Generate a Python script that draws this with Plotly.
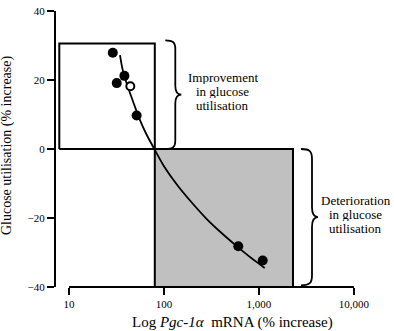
import numpy as np
import plotly.graph_objects as go

# ---------------- data ----------------
pgc_filled = [28.9, 31.8, 38.3, 51.5, 605, 1094]
glucose_filled = [27.9, 19.1, 21.2, 9.7, -28.2, -32.3]
pgc_open = [44.2]
glucose_open = [18.2]
fit_pgc = [34.4, 36.7, 40.8, 46.9, 55.0, 64.7, 79.1, 100, 141, 200, 282, 398, 562, 794, 1148]
fit_glucose = [27.2, 23.0, 18.7, 14.0, 8.8, 4.5, 0.0, -5.0, -10.8, -15.8, -20.3, -24.2, -27.8, -31.2, -34.5]
improve_pgc = [7.9, 80]
improve_glucose = [0, 30.6]
deteriorate_pgc = [80, 2280]
deteriorate_glucose = [-40, 0]
x_tickvals = [10, 100, 1000, 10000]
x_ticktext = ["10", "100", "1,000", "10,000"]
y_tickvals = [-40, -20, 0, 20, 40]
improve_lines = ["Improvement", "in glucose", "utilisation"]
deteriorate_lines = ["Deterioration", "in glucose", "utilisation"]

# ---------------- layout constants ----------------
W, H = 394, 331
ML, MR, MT, MB = 56, 29, 5, 44
PW, PH = W - ML - MR, H - MT - MB
XR = [0.863, 4.116]
YR = [-40, 40]
FONT = "Liberation Serif"


def xpap(v):
    return (np.log10(v) - XR[0]) / (XR[1] - XR[0])


def ypap(v):
    return (v - YR[0]) / (YR[1] - YR[0])


def px(v):
    return ML + xpap(v) * PW


def py(v):
    return MT + (1 - ypap(v)) * PH


def to_paper(x, y):
    return (x - ML) / PW, (MT + PH - y) / PH


def brace_path(x_tip, x_vert, x_point, y_top, y_bot, r):
    ym = (y_top + y_bot) / 2
    segs = [
        ("M", [(x_tip, y_top)]),
        ("C", [(x_tip + (x_vert - x_tip) * 0.8, y_top), (x_vert, y_top + r * 0.25), (x_vert, y_top + r)]),
        ("L", [(x_vert, ym - r)]),
        ("C", [(x_vert, ym - r * 0.35), (x_vert + (x_point - x_vert) * 0.4, ym), (x_point, ym)]),
        ("C", [(x_vert + (x_point - x_vert) * 0.4, ym), (x_vert, ym + r * 0.35), (x_vert, ym + r)]),
        ("L", [(x_vert, y_bot - r)]),
        ("C", [(x_vert, y_bot - r * 0.25), (x_tip + (x_vert - x_tip) * 0.8, y_bot), (x_tip, y_bot)]),
    ]
    out = []
    for cmd, pts in segs:
        coords = []
        for (x, y) in pts:
            a, b = to_paper(x, y)
            coords.append(f"{a:.5f},{b:.5f}")
        out.append(cmd + " " + " ".join(coords))
    return " ".join(out)


def rect_xy(xs, ys):
    return ([xs[0], xs[1], xs[1], xs[0], xs[0]], [ys[0], ys[0], ys[1], ys[1], ys[0]])


fig = go.Figure()

bx, by = rect_xy(deteriorate_pgc, deteriorate_glucose)
fig.add_trace(go.Scatter(x=bx, y=by, mode="lines", fill="toself", fillcolor="#c0c0c0",
                         line=dict(color="black", width=2), hoverinfo="skip", showlegend=False))
bx, by = rect_xy(improve_pgc, improve_glucose)
fig.add_trace(go.Scatter(x=bx, y=by, mode="lines", line=dict(color="black", width=2),
                         hoverinfo="skip", showlegend=False))
fig.add_trace(go.Scatter(x=fit_pgc, y=fit_glucose, mode="lines",
                         line=dict(color="black", width=1.8, shape="spline", smoothing=0.8),
                         showlegend=False))
fig.add_trace(go.Scatter(x=pgc_filled, y=glucose_filled, mode="markers",
                         marker=dict(size=10, color="black"), showlegend=False))
fig.add_trace(go.Scatter(x=pgc_open, y=glucose_open, mode="markers",
                         marker=dict(size=8, color="white", line=dict(color="black", width=2)),
                         showlegend=False))

shapes = []
# x axis line (from 10 to 10,000 only)
shapes.append(dict(type="line", xref="paper", yref="paper", x0=xpap(x_tickvals[0]), x1=xpap(x_tickvals[-1]),
                   y0=0, y1=0, line=dict(color="black", width=2)))
# braces
t1 = px(improve_pgc[1]) + 10.5
shapes.append(dict(type="path", xref="paper", yref="paper",
                   path=brace_path(t1, t1 + 10, t1 + 16, py(31.5), py(0), 9),
                   line=dict(color="black", width=1.8)))
t2 = px(deteriorate_pgc[1]) + 8
shapes.append(dict(type="path", xref="paper", yref="paper",
                   path=brace_path(t2, t2 + 11, t2 + 17, py(0), py(-39.5), 10),
                   line=dict(color="black", width=1.8)))

annotations = []
LS = 14.5
for i, t in enumerate(improve_lines):
    x, y = to_paper(222.5, 73 + i * LS)
    annotations.append(dict(text=t, xref="paper", yref="paper", x=x, y=y, showarrow=False, height=13,
                            xanchor="center", yanchor="middle", font=dict(family=FONT, size=13, color="black")))
for i, t in enumerate(deteriorate_lines):
    x, y = to_paper(355.5, 198.5 + i * LS)
    annotations.append(dict(text=t, xref="paper", yref="paper", x=x, y=y, showarrow=False, height=13,
                            xanchor="center", yanchor="middle", font=dict(family=FONT, size=13, color="black")))
x, y = to_paper(232, 323)
annotations.append(dict(text="Log <i>Pgc-1α</i>  mRNA (% increase)", xref="paper", yref="paper", x=x, y=y,
                        showarrow=False, xanchor="center", yanchor="middle",
                        font=dict(family=FONT, size=15, color="black")))
x, y = to_paper(7, 142)
annotations.append(dict(text="Glucose utilisation (% increase)", xref="paper", yref="paper", x=x, y=y,
                        textangle=-90, showarrow=False, xanchor="center", yanchor="middle",
                        font=dict(family=FONT, size=14, color="black")))

fig.update_layout(
    width=W, height=H, autosize=False,
    margin=dict(l=ML, r=MR, t=MT, b=MB, pad=0),
    paper_bgcolor="white", plot_bgcolor="white",
    font=dict(family=FONT, color="black"),
    shapes=shapes, annotations=annotations,
    xaxis=dict(type="log", range=XR, tickvals=x_tickvals, ticktext=x_ticktext,
               ticks="outside", ticklen=7, tickwidth=1.5, tickcolor="black",
               showline=False, showgrid=False, zeroline=False,
               tickfont=dict(family=FONT, size=11, color="black")),
    yaxis=dict(range=YR, tickvals=y_tickvals, ticks="outside", ticklen=7, tickwidth=1.5,
               tickcolor="black", showline=True, linewidth=2, linecolor="black",
               showgrid=False, zeroline=False, ticklabeloverflow="allow",
               tickfont=dict(family=FONT, size=11, color="black")),
)

fig.write_html("out.html", config={"displayModeBar": False},
               post_script="document.body.style.margin='0';document.body.style.overflow='hidden';")
